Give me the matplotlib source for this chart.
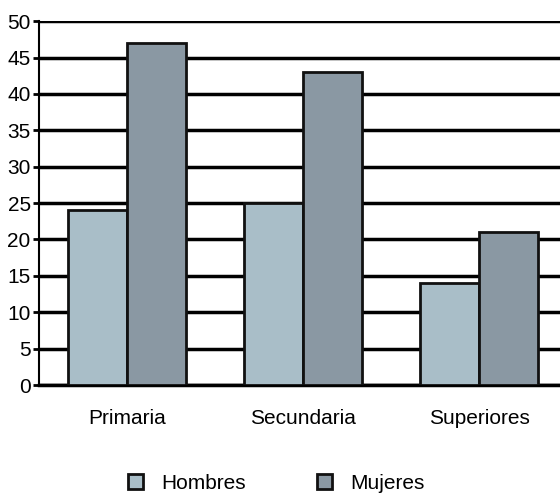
import matplotlib.pyplot as plt
from matplotlib.patches import Patch
import numpy as np

plt.rcParams['font.family'] = ['Liberation Sans', 'DejaVu Sans']

categorias = ['Primaria', 'Secundaria', 'Superiores']
hombres = [24, 25, 14]
mujeres = [47, 43, 21]
series = ['Hombres', 'Mujeres']
colores = ['#a9bec8', '#8a98a3']

fig = plt.figure(figsize=(5.6, 4.93), dpi=100)
ax = fig.add_axes([0.0696, 0.219, 0.943, 0.738])

x = np.arange(len(categorias))
w = 0.335
ax.bar(x - w / 2, hombres, w, color=colores[0], edgecolor='#111111', linewidth=2, zorder=3)
ax.bar(x + w / 2, mujeres, w, color=colores[1], edgecolor='#111111', linewidth=2, zorder=3)

ax.set_xlim(-0.5, 2.5)
ax.set_ylim(0, 50)
ax.set_yticks(range(0, 51, 5))
ax.yaxis.grid(True, color='black', linewidth=2.5, zorder=1)
ax.set_axisbelow(True)

ax.set_xticks(x)
ax.set_xticklabels(categorias, fontsize=15)
ax.tick_params(axis='x', length=0, pad=17)
ax.tick_params(axis='y', labelsize=15, length=4, width=2, pad=2)

for s in ['top', 'right']:
    ax.spines[s].set_visible(False)
ax.spines['bottom'].set_linewidth(2.5)
ax.spines['left'].set_linewidth(1.5)
ax.spines['left'].set_linestyle((0, (2, 1)))

handles = [Patch(facecolor=c, edgecolor='#111111', linewidth=2) for c in colores]
fig.legend(handles, series, loc='center', bbox_to_anchor=(0.494, 0.02), ncol=2,
           frameon=False, fontsize=15, handlelength=0.7, handleheight=0.7,
           columnspacing=3.4, handletextpad=0.9)

fig.savefig('out.png', dpi=100)
